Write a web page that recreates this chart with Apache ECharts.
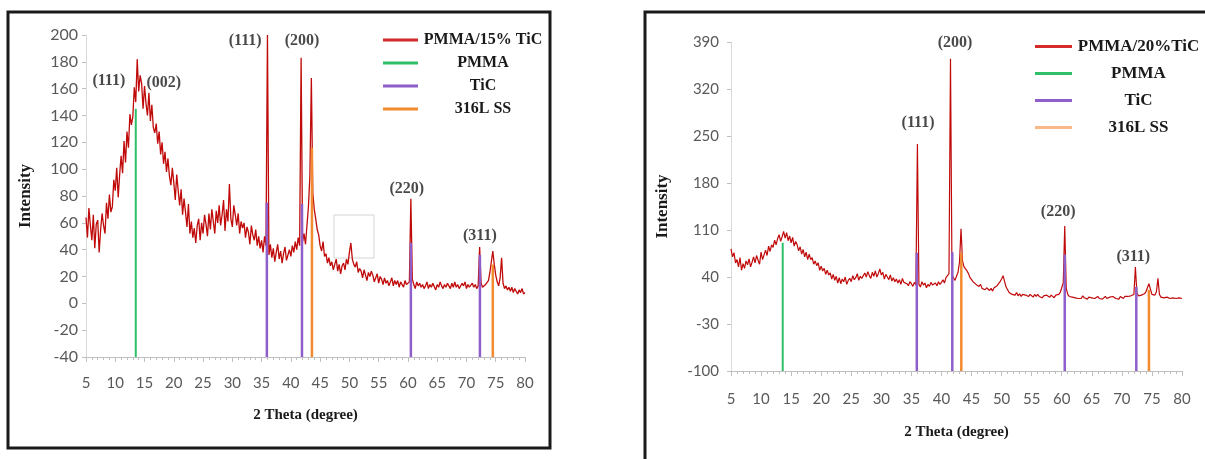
<!DOCTYPE html>
<html>
<head>
<meta charset="utf-8">
<script src="https://cdn.jsdelivr.net/npm/echarts@6/dist/echarts.min.js"></script>
<style>html,body{margin:0;padding:0;background:#fff}#chart{width:1205px;height:459px}</style>
</head>
<body>
<div id="chart"></div>
<script>
var chart = echarts.init(document.getElementById('chart'));

// 2 theta sampling: 5 to 80 degree, one reading every 0.25 degree
var thetaStart = 5, thetaStep = 0.25;

// PMMA/15% TiC pattern, one row of 4 per degree
var curve15 = [
  64, 49, 71, 58,  47, 66, 41, 59,  62, 38, 55, 67,  58, 52, 75, 63,
  81, 68, 72, 92,  84, 101, 79, 96, 110, 97, 121, 105, 128, 116, 141, 133,
  139, 161, 150, 182, 158, 170, 164, 145, 162, 149, 140, 157, 136, 148, 131, 127,
  134, 119, 128, 111, 120, 104, 113, 98, 108, 95, 88, 101, 90, 77, 96, 84,
  73, 85, 66, 78,  68, 57, 74, 52,  61, 49, 56, 45,  58, 63, 47, 60,
  52, 66, 59, 50,  67, 55, 70, 61,  52, 69, 60, 73,  58, 66, 77, 54,
  70, 61, 89, 63,  57, 73, 66, 58,  67, 52, 61, 56,  60, 49, 57, 53,
  44, 58, 51, 47,  55, 43, 50, 41,  47, 38, 50, 43,  200, 36, 44, 34,
  41, 31, 38, 44,  33, 39, 30, 37,  42, 32, 36, 40,  35, 43, 38, 46,
  40, 49, 43, 183, 46, 52, 44, 58,  72, 95, 168, 82, 70, 63, 55, 51,
  43, 39, 46, 35,  37, 30, 34, 28,  31, 25, 29, 33,  24, 29, 22, 28,
  30, 25, 33, 29,  38, 45, 33, 29,  27, 31, 23, 26,  24, 19, 25, 21,
  17, 23, 20, 24,  21, 16, 19, 22,  15, 20, 18, 14,  19, 15, 17, 13,
  16, 19, 13, 17,  14, 17, 12, 16,  15, 12, 17, 14,  13, 16, 78, 18,
  14, 11, 16, 13,  15, 12, 14, 11,  13, 16, 11, 14,  12, 15, 14, 10,
  14, 12, 16, 13,  11, 14, 12, 15,  13, 11, 15, 12,  16, 12, 14, 11,
  12, 15, 13, 16,  11, 14, 12, 13,  15, 12, 14, 11,  13, 42, 15, 12,
  11, 14, 13, 17,  23, 31, 39, 29,  21, 16, 13, 19,  34, 15, 11, 13,
  10, 12, 9, 12,   8, 11, 10, 7,    10, 8, 11, 7,    8
];

// PMMA/20%TiC pattern
var curve20 = [
  82, 70, 76, 61,  66, 55, 69, 50,  60, 53, 64, 58,  67, 55, 62, 70,
  61, 72, 65, 59,  77, 66, 73, 80,  72, 86, 78, 88,  84, 95, 88, 97,
  103, 93, 100, 108, 98, 106, 94, 101, 91, 99, 86, 93, 88, 79, 85, 74,
  81, 70, 77, 66,  74, 66, 69, 59,  64, 57, 61, 50,  56, 49, 53, 44,
  50, 43, 46, 37,  44, 35, 41, 31,  39, 30, 37, 33,  40, 29, 35, 38,
  33, 42, 36, 39,  45, 35, 41, 38,  36, 46, 40, 48,  42, 38, 47, 41,
  49, 40, 45, 52,  43, 47, 37, 44,  40, 36, 43, 34,  39, 33, 37, 31,
  36, 29, 38, 32,  34, 30, 27, 33,  30, 26, 32, 28,  238, 29, 25, 33,
  28, 31, 24, 29,  26, 32, 28, 30,  31, 27, 33, 29,  32, 36, 31, 39,
  37, 45, 365, 44, 39, 35, 41, 47,  62, 112, 64, 55, 57, 49, 45, 39,
  37, 33, 31, 29,  31, 26, 29, 23,  25, 21, 24, 22,  20, 23, 19, 24,
  23, 27, 29, 33,  37, 42, 33, 25,  21, 17, 19, 14,  16, 13, 17, 12,
  15, 11, 14, 12,  13, 15, 11, 14,  12, 10, 14, 11,  14, 11, 12, 9,
  12, 10, 13, 11,  10, 13, 11, 9,   13, 11, 14, 17,  19, 31, 116, 23,
  14, 11, 12, 10,  12, 9, 11, 8,    10, 8, 12, 9,    11, 7, 10, 9,
  9, 11, 8, 10,    11, 8, 10, 7,    9, 11, 8, 10,    10, 8, 11, 9,
  8, 10, 7, 11,    10, 8, 11, 9,    11, 9, 12, 10,   14, 55, 16, 12,
  11, 13, 12, 15,  18, 24, 30, 22,  14, 12, 13, 18,  38, 14, 10, 12,
  9, 7, 10, 8,     8, 6, 9, 7,      8, 6, 9, 7,      8
];

// reference stick patterns [2 theta, intensity]
var pmma15 = [[13.5, 145]];
var tic15 = [[35.9, 75], [41.9, 74], [60.5, 45], [72.3, 36]];
var ss15 = [[43.6, 116], [74.5, 29]];
var pmma20 = [[13.6, 91]];
var tic20 = [[35.9, 76], [41.8, 77], [60.5, 73], [72.4, 25]];
var ss20 = [[43.3, 76], [74.5, 21]];

// hkl labels [2 theta, intensity, text]
var peaks15 = [[8.9, 166, '(111)'], [18.3, 164, '(002)'], [32.2, 196, '(111)'],
  [41.9, 196, '(200)'], [59.8, 85, '(220)'], [72.3, 50, '(311)']];
var peaks20 = [[36.1, 269, '(111)'], [42.25, 388, '(200)'], [59.4, 137, '(220)'], [71.9, 70, '(311)']];

var names15 = ['PMMA/15% TiC', 'PMMA', 'TiC', '316L SS'];
var names20 = ['PMMA/20%TiC', 'PMMA', 'TiC', '316L SS'];

var serif = 'Liberation Serif';
var red = '#c00a0a', green = '#2ebf68', purple = '#8e5fcb', orange = '#f28a30';

function pairs(vals) {
    return vals.map(function (v, i) { return [thetaStart + i * thetaStep, v]; });
}

var labelOf = {};
names15.forEach(function (n, i) { labelOf['L' + i] = n; });
names20.forEach(function (n, i) { labelOf['R' + i] = n; });

var series = [];
function addCurve(key, vals, gi, w) {
    series.push({
        type: 'line', name: key, xAxisIndex: gi, yAxisIndex: gi,
        data: pairs(vals), symbol: 'none', sampling: 'none',
        lineStyle: { color: red, width: w }, itemStyle: { color: '#d42a2a' }, z: 2
    });
}
function addSticks(key, list, color, width, base, gi) {
    list.forEach(function (p) {
        series.push({
            type: 'line', name: key, xAxisIndex: gi, yAxisIndex: gi,
            data: [[p[0], base], [p[0], p[1]]], symbol: 'none',
            lineStyle: { color: color, width: width }, itemStyle: { color: color }, z: 3
        });
    });
}
function addLabels(list, gi, size) {
    series.push({
        type: 'scatter', xAxisIndex: gi, yAxisIndex: gi, symbolSize: 0, silent: true, z: 5,
        data: list,
        label: {
            show: true, position: 'inside', formatter: function (p) { return p.data[2]; },
            fontFamily: serif, fontWeight: 'bold', fontSize: size, color: '#1a1a1a'
        }
    });
}

addCurve('L0', curve15, 0, 1.3);
addSticks('L1', pmma15, green, 2, -40, 0);
addSticks('L2', tic15, purple, 2.5, -40, 0);
addSticks('L3', ss15, orange, 2.5, -40, 0);
addLabels(peaks15, 0, 16);
addCurve('R0', curve20, 1, 1.2);
addSticks('R1', pmma20, green, 2, -100, 1);
addSticks('R2', tic20, purple, 2.5, -100, 1);
addSticks('R3', ss20, orange, 2.5, -100, 1);
addLabels(peaks20, 1, 16);

function xAxis(gi, gap, margin) {
    return {
        gridIndex: gi, type: 'value', min: 5, max: 80, interval: 5,
        name: '2 Theta (degree)', nameLocation: 'middle', nameGap: gap,
        nameTextStyle: { fontFamily: serif, fontWeight: 'bold', fontSize: 15, color: '#1a1a1a' },
        axisLine: { onZero: false, lineStyle: { color: '#bfbfbf' } },
        axisTick: { length: 5, lineStyle: { color: '#bfbfbf' } },
        minorTick: { show: true, splitNumber: 5, length: 3, lineStyle: { color: '#bfbfbf' } },
        splitLine: { show: false },
        axisLabel: { fontFamily: 'Lato', fontSize: 15, color: '#595959', margin: margin }
    };
}
function yAxis(gi, min, max, step, gap, size, margin) {
    return {
        gridIndex: gi, type: 'value', min: min, max: max, interval: step,
        name: 'Intensity', nameLocation: 'middle', nameGap: gap,
        nameTextStyle: { fontFamily: serif, fontWeight: 'bold', fontSize: 17, color: '#1a1a1a' },
        axisLine: { show: true, onZero: false, lineStyle: { color: '#d9d9d9' } },
        axisTick: { show: true, length: 4, lineStyle: { color: '#bfbfbf' } },
        splitLine: { show: false },
        axisLabel: { fontFamily: 'Lato', fontSize: size, color: '#595959', margin: margin }
    };
}
function legend(prefix, left, top, gap, size, width, lineW, ssColor) {
    return {
        orient: 'vertical', left: left, top: top, itemGap: gap, icon: 'rect',
        itemWidth: lineW, itemHeight: 3, selectedMode: false,
        data: [0, 1, 2, 3].map(function (i) {
            var d = { name: prefix + i };
            if (i === 3 && ssColor) d.itemStyle = { color: ssColor };
            return d;
        }),
        formatter: function (n) { return '{c|' + labelOf[n] + '}'; },
        textStyle: {
            fontFamily: serif, fontWeight: 'bold', fontSize: size, color: '#1a1a1a',
            rich: { c: { width: width, align: 'center', fontFamily: serif, fontWeight: 'bold', fontSize: size, lineHeight: size, color: '#1a1a1a' } }
        }
    };
}

var option = {
    animation: false,
    grid: [
        { left: 86, top: 35, width: 439, height: 322 },
        { left: 731, top: 42, width: 451, height: 329 }
    ],
    xAxis: [xAxis(0, 51, 19), xAxis(1, 54, 21)],
    yAxis: [yAxis(0, -40, 200, 20, 52, 16, 8), yAxis(1, -100, 390, 70, 60, 15, 12)],
    legend: [
        legend('L', 378, 27, 7, 16, 120, 35, null),
        legend('R', 1030, 33, 10, 17, 123, 37, '#f8b888')
    ],
    graphic: [
        { type: 'rect', shape: { x: 8, y: 12, width: 542, height: 436 }, style: { fill: 'none', stroke: '#1a1a1a', lineWidth: 3 }, silent: true },
        { type: 'rect', shape: { x: 645, y: 12, width: 620, height: 480 }, style: { fill: 'none', stroke: '#1a1a1a', lineWidth: 3 }, silent: true },
        { type: 'rect', shape: { x: 334, y: 215, width: 40, height: 43 }, style: { fill: 'none', stroke: '#d4d4d4', lineWidth: 1 }, silent: true }
    ],
    series: series
};
chart.setOption(option);
</script>
</body>
</html>
